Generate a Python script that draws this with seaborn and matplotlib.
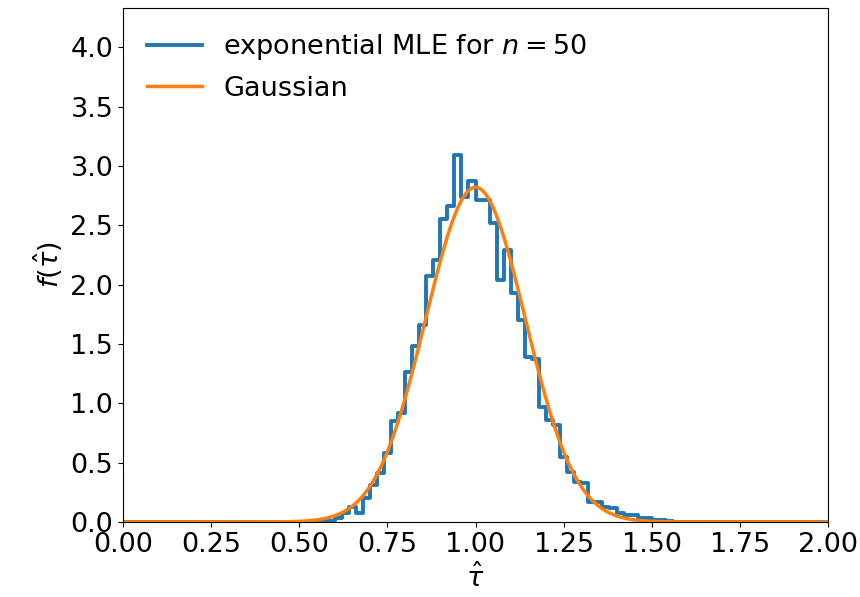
import numpy as np
import pandas as pd
import matplotlib
matplotlib.use('Agg')
import matplotlib.pyplot as plt
import seaborn as sns

# histogram: left edge of each 0.02 bin and its height
bin_left = [0.56, 0.58, 0.60, 0.62, 0.64, 0.66, 0.68, 0.70, 0.72, 0.74,
            0.76, 0.78, 0.80, 0.82, 0.84, 0.86, 0.88, 0.90, 0.92, 0.94,
            0.96, 0.98, 1.00, 1.02, 1.04, 1.06, 1.08, 1.10, 1.12, 1.14,
            1.16, 1.18, 1.20, 1.22, 1.24, 1.26, 1.28, 1.30, 1.32, 1.34,
            1.36, 1.38, 1.40, 1.42, 1.44, 1.46, 1.48, 1.50, 1.52, 1.54]
heights = [0.005, 0.01, 0.03, 0.08, 0.13, 0.08, 0.20, 0.31, 0.41, 0.58,
           0.85, 0.92, 1.26, 1.48, 1.66, 2.07, 2.21, 2.55, 2.66, 3.09,
           2.74, 2.87, 2.71, 2.71, 2.52, 2.04, 2.29, 1.93, 1.70, 1.39,
           1.37, 0.97, 0.86, 0.82, 0.55, 0.42, 0.34, 0.33, 0.17, 0.17,
           0.13, 0.12, 0.075, 0.06, 0.055, 0.035, 0.03, 0.015, 0.015, 0.01]
bin_width = 0.02
n_bins = 100

# Gaussian parameters (peak ~2.82 at 1.0)
mu = 1.0
sigma = 0.1415

df = pd.DataFrame({'tau': np.array(bin_left) + bin_width / 2, 'h': heights})
edges = list(np.linspace(0, 2, n_bins + 1))

tau = np.linspace(0, 2, 500)
gauss = pd.DataFrame({'tau': tau,
                      'f': np.exp(-0.5 * ((tau - mu) / sigma) ** 2) / (sigma * np.sqrt(2 * np.pi))})

plt.rcParams['font.size'] = 19.5
fig, ax = plt.subplots(figsize=(8.6, 5.97), dpi=100)
fig.subplots_adjust(left=123/860, right=828/860, top=1-8/597, bottom=1-522/597)

sns.histplot(data=df, x='tau', weights='h', bins=edges, element='step', fill=False,
             color='C0', linewidth=2.8, ax=ax, label='exponential MLE for $n = 50$')
sns.lineplot(data=gauss, x='tau', y='f', color='C1', linewidth=2.5, ax=ax, label='Gaussian')

ax.set_xlim(0, 2)
ax.set_ylim(0, 4.33)
ax.set_xticks(np.arange(0, 2.01, 0.25))
ax.set_yticks(np.arange(0, 4.01, 0.5))
ax.set_xlabel(r'$\hat{\tau}$')
ax.set_ylabel(r'$f(\hat{\tau})$')
ax.legend(loc='upper left', frameon=False)

fig.savefig('out.png', dpi=100)
